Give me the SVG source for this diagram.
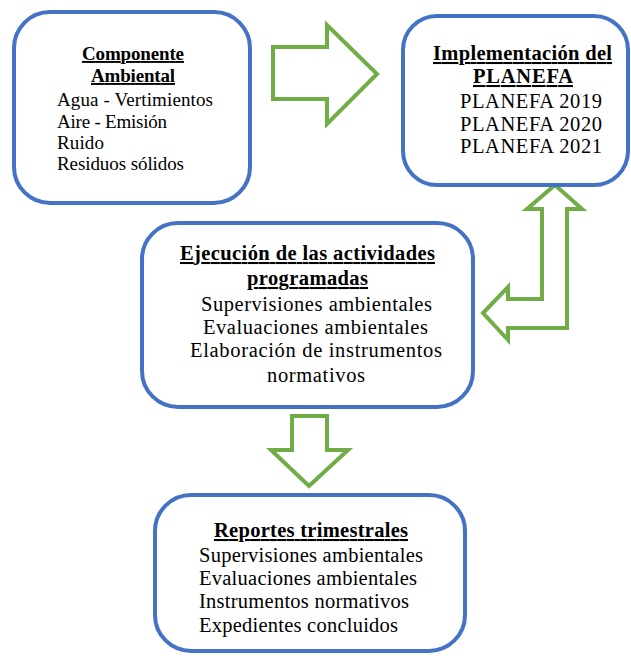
<svg xmlns="http://www.w3.org/2000/svg" width="631" height="656" viewBox="0 0 631 656">
<style>
.box{fill:#fff;stroke:#4472C4;stroke-width:4}
.arr{fill:#fff;stroke:#70AD47;stroke-width:4;stroke-linejoin:miter}
text{font-family:"Liberation Serif","Times New Roman",serif;font-size:20.5px;fill:#000}
.s{font-size:19px}
.h{font-weight:bold;text-decoration:underline;text-anchor:middle}
.c{text-anchor:middle}
</style>
<rect width="631" height="656" fill="#fff"/>
<g id="connectors">
<path class="arr" d="M273,47 H327 V25 L377,74 L327,124 V99 H273 Z"/>
<path class="arr" d="M292,416 H327 V450 H348 L309,486 L271,450 H292 Z"/>
<path class="arr" d="M555,185 L582,209 H567 V328 H508 V340 L483,313 L508,287 V299 H542 V209 H527 Z"/>
</g>
<g id="node-componente">
<rect class="box" x="14" y="12" width="236" height="191" rx="36"/>
<text class="h s" x="133" y="60" textLength="102" lengthAdjust="spacing">Componente</text>
<text class="h s" x="133" y="82" textLength="84" lengthAdjust="spacing">Ambiental</text>
<text class="s" x="57" y="106" textLength="156" lengthAdjust="spacing">Agua - Vertimientos</text>
<text class="s" x="57" y="128" textLength="110" lengthAdjust="spacing">Aire - Emisión</text>
<text class="s" x="57" y="149" textLength="47" lengthAdjust="spacing">Ruido</text>
<text class="s" x="57" y="170" textLength="127" lengthAdjust="spacing">Residuos sólidos</text>
</g>
<g id="node-implementacion">
<rect class="box" x="403" y="16" width="225" height="169" rx="34"/>
<text class="h" x="522.5" y="60" textLength="179" lengthAdjust="spacing">Implementación del</text>
<text class="h" x="523" y="83" textLength="100" lengthAdjust="spacing">PLANEFA</text>
<text class="c" x="531" y="108" textLength="142" lengthAdjust="spacing">PLANEFA 2019</text>
<text class="c" x="531" y="131" textLength="142" lengthAdjust="spacing">PLANEFA 2020</text>
<text class="c" x="531" y="153" textLength="142" lengthAdjust="spacing">PLANEFA 2021</text>
</g>
<g id="node-ejecucion">
<rect class="box" x="142" y="223" width="331" height="184" rx="36"/>
<text class="h" x="307.5" y="260" textLength="255" lengthAdjust="spacing">Ejecución de las actividades</text>
<text class="h" x="307.5" y="285" textLength="121" lengthAdjust="spacing">programadas</text>
<text class="c" x="316.5" y="311" textLength="231" lengthAdjust="spacing">Supervisiones ambientales</text>
<text class="c" x="315.5" y="334" textLength="225" lengthAdjust="spacing">Evaluaciones ambientales</text>
<text class="c" x="316" y="357" textLength="252" lengthAdjust="spacing">Elaboración de instrumentos</text>
<text class="c" x="316" y="382" textLength="98" lengthAdjust="spacing">normativos</text>
</g>
<g id="node-reportes">
<rect class="box" x="155" y="495" width="310" height="156" rx="36"/>
<text class="h" x="311" y="537" textLength="194" lengthAdjust="spacing">Reportes trimestrales</text>
<text x="199" y="562" textLength="224" lengthAdjust="spacing">Supervisiones ambientales</text>
<text x="199" y="585" textLength="218" lengthAdjust="spacing">Evaluaciones ambientales</text>
<text x="199" y="608" textLength="210" lengthAdjust="spacing">Instrumentos normativos</text>
<text x="199" y="632" textLength="199" lengthAdjust="spacing">Expedientes concluidos</text>
</g>
</svg>
